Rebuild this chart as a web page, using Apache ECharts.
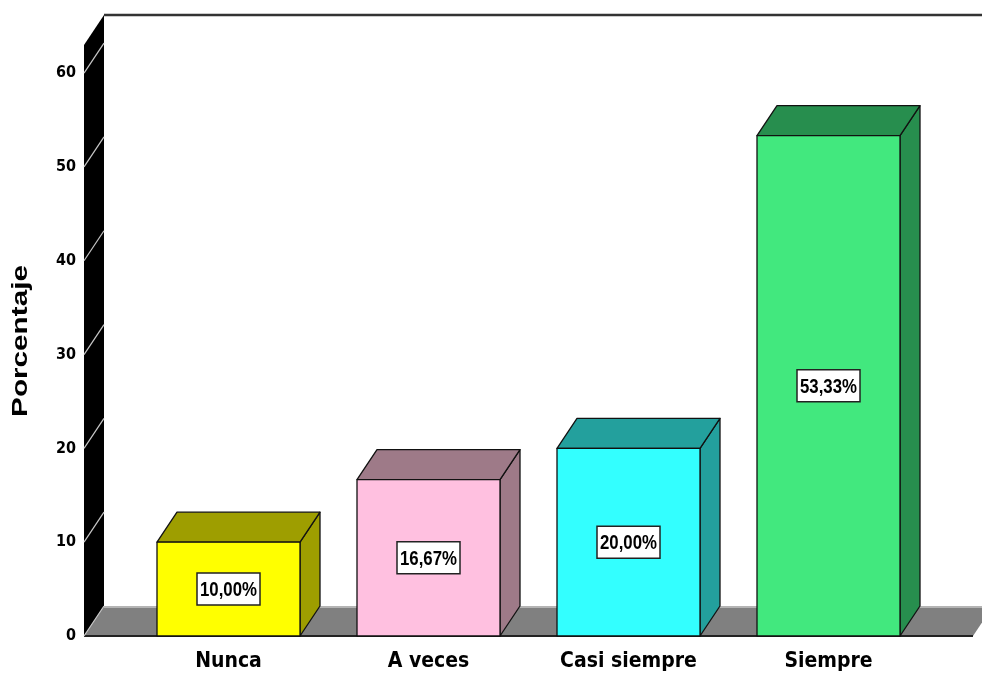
<!DOCTYPE html>
<html>
<head>
<meta charset="utf-8">
<script src="https://cdn.jsdelivr.net/npm/echarts@6/dist/echarts.min.js"></script>
<style>
html,body{margin:0;padding:0;background:#fff;}
#chart{width:982px;height:677px;}
</style>
</head>
<body>
<div id="chart"></div>
<script>
const categories = ['Nunca', 'A veces', 'Casi siempre', 'Siempre'];
const percentages = [10.00, 16.67, 20.00, 53.33];
const yTicks = [0, 10, 20, 30, 40, 50, 60];
const yAxisTitle = 'Porcentaje';

const frontColors = ['#FFFF00', '#FFC0E0', '#33FFFF', '#42E87E'];
const shadeColors = ['#9E9E00', '#9E7A88', '#23A09D', '#278E4E'];

const NARROW = '"Liberation Sans Narrow", "Arial Narrow", "DejaVu Sans Condensed", sans-serif';
const DX = 20, DY = -30;

function fmt(v) { return v.toFixed(2).replace('.', ',') + '%'; }

const chart = echarts.init(document.getElementById('chart'), null, { renderer: 'canvas' });

function renderFrame(params, api) {
  const cs = params.coordSys;
  const FL = cs.x, FR = cs.x + cs.width, yTop = cs.y, yBot = api.coord([0, 0])[1];
  const children = [];
  children.push({ type: 'rect', shape: { x: FL + DX, y: yTop + DY, width: FR - FL + 10, height: yBot - yTop }, style: { fill: '#ffffff' } });
  children.push({ type: 'line', shape: { x1: FL + DX, y1: yTop + DY, x2: FR + DX + 10, y2: yTop + DY }, style: { stroke: '#333333', lineWidth: 2.5 } });
  children.push({ type: 'polygon', shape: { points: [[FL, yBot], [FL + DX, yBot + DY], [FR + DX, yBot + DY], [FR, yBot]] }, style: { fill: '#808080' } });
  children.push({ type: 'line', shape: { x1: FL + DX, y1: yBot + DY + 1, x2: FR + DX, y2: yBot + DY + 1 }, style: { stroke: '#b4b4b4', lineWidth: 2 } });
  children.push({ type: 'line', shape: { x1: FL, y1: yBot, x2: FR, y2: yBot }, style: { stroke: '#222222', lineWidth: 2 } });
  children.push({ type: 'polygon', shape: { points: [[FL, yTop], [FL + DX, yTop + DY], [FL + DX, yBot + DY], [FL, yBot]] }, style: { fill: '#000000' } });
  yTicks.forEach(function (t) {
    const p = api.coord([0, t])[1];
    children.push({ type: 'line', shape: { x1: FL, y1: p, x2: FL + DX, y2: p + DY }, style: { stroke: '#c8c8c8', lineWidth: 1.2 } });
  });
  return { type: 'group', children: children };
}

function renderBar(params, api) {
  const i = api.value(0), v = api.value(1);
  const base = api.coord([i, 0]);
  const top = api.coord([i, v]);
  const hw = api.size([1, 0])[0] * 0.3575;
  const L = base[0] - hw, R = base[0] + hw, B = base[1], T = top[1];
  const idx = params.dataIndex;
  const line = { stroke: '#111111', lineWidth: 1.3, lineJoin: 'round' };
  const cy = (T + B) / 2;
  return {
    type: 'group',
    children: [
      { type: 'polygon', shape: { points: [[R, T], [R + DX, T + DY], [R + DX, B + DY], [R, B]] }, style: Object.assign({ fill: shadeColors[idx] }, line) },
      { type: 'polygon', shape: { points: [[L, T], [L + DX, T + DY], [R + DX, T + DY], [R, T]] }, style: Object.assign({ fill: shadeColors[idx] }, line) },
      { type: 'rect', shape: { x: L, y: T, width: R - L, height: B - T }, style: Object.assign({ fill: frontColors[idx] }, line) },
      { type: 'rect', shape: { x: base[0] - 31.5, y: cy - 16, width: 63, height: 32 }, style: { fill: '#ffffff', stroke: '#222222', lineWidth: 1.5 } },
      { type: 'text', x: base[0], y: cy + 1, scaleX: 0.8, style: { text: fmt(v), align: 'center', verticalAlign: 'middle', font: 'bold 21px "Liberation Sans", Arial, sans-serif', fill: '#000000' } }
    ]
  };
}

chart.setOption({
  animation: false,
  backgroundColor: '#ffffff',
  grid: { left: 84, right: 9, top: 45, bottom: 41 },
  xAxis: {
    type: 'value', min: -0.7225, max: 3.7225,
    axisLine: { show: false }, axisTick: { show: false }, splitLine: { show: false },
    axisLabel: {
      customValues: [0, 1, 2, 3],
      formatter: function (v) { return categories[Math.round(v)]; },
      margin: 15, fontFamily: NARROW, fontWeight: 'bold', fontSize: 21, color: '#000'
    }
  },
  yAxis: {
    type: 'value', min: 0, max: 63, interval: 10,
    axisLine: { show: false }, axisTick: { show: false }, splitLine: { show: false },
    axisLabel: { margin: 8, fontFamily: NARROW, fontWeight: 'bold', fontSize: 16, color: '#000', showMaxLabel: false }
  },
  graphic: [{
    type: 'text', x: 21, y: 341, rotation: Math.PI / 2, scaleX: 1.35,
    style: { text: yAxisTitle, align: 'center', verticalAlign: 'middle', font: 'bold 22px "Liberation Sans", Arial, sans-serif', fill: '#000' }
  }],
  series: [
    { type: 'custom', z: 1, clip: false, silent: true, data: [[0, 0]], renderItem: renderFrame },
    { type: 'custom', z: 2, clip: false, data: percentages.map(function (p, i) { return [i, p]; }), renderItem: renderBar }
  ]
});
</script>
</body>
</html>
